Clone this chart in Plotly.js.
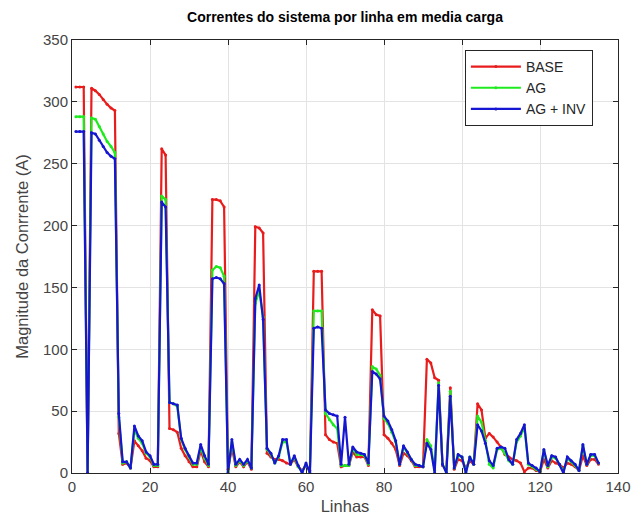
<!DOCTYPE html>
<html>
<head>
<meta charset="utf-8">
<script src="https://cdn.plot.ly/plotly-3.0.1.min.js"></script>
<style>
  html, body { margin: 0; padding: 0; background: #ffffff; }
  #chart { width: 632px; height: 521px; }
</style>
</head>
<body>
<div id="chart"></div>
<script>
// Current magnitude (A) on each line of the feeder, medium-load scenario
const seriesNames = ['BASE', 'AG', 'AG + INV'];

const base = [
  312, 312, 312, 0, 311, 309, 306, 302, 298, 295,
  293, 32, 7, 8, 4, 26, 22, 18, 12, 10,
  5, 5, 262, 257, 36, 35, 33, 20, 14, 9,
  5, 5, 18, 9, 5, 221, 221, 220, 215, 3,
  20, 5, 9, 5, 9, 3, 199, 198, 194, 16,
  13, 11, 11, 10, 8, 7, 11, 5, 2, 6,
  2, 163, 163, 163, 31, 27, 25, 24, 5, 6,
  6, 17, 13, 13, 13, 6, 132, 128, 127, 31,
  28, 24, 19, 6, 16, 14, 10, 5, 5, 5,
  92, 89, 77, 75, 6, 3, 69, 3, 11, 10,
  4, 10, 7, 56, 51, 28, 32, 29, 25, 21,
  15, 13, 11, 10, 8, 1, 4, 4, 2, 1,
  11, 4, 10, 8, 7, 4, 8, 7, 5, 2,
  14, 6, 11, 11, 7
];

const ag = [
  288, 288, 288, 0, 287, 286, 280, 274, 268, 264,
  259, 45, 8, 9, 4, 35, 28, 24, 16, 13,
  6, 6, 224, 221, 57, 56, 54, 27, 19, 13,
  7, 7, 21, 12, 6, 164, 167, 166, 159, 1,
  25, 6, 10, 6, 10, 4, 137, 147, 126, 19,
  15, 8, 13, 25, 25, 7, 13, 5, 1, 7,
  1, 131, 131, 131, 48, 43, 39, 36, 6, 6,
  6, 20, 15, 15, 14, 7, 86, 84, 79, 44,
  40, 33, 25, 7, 21, 16, 11, 6, 6, 5,
  27, 22, 2, 73, 7, 1, 66, 4, 14, 13,
  1, 13, 7, 46, 41, 26, 7, 4, 19, 20,
  16, 10, 7, 25, 30, 37, 7, 5, 3, 1,
  18, 5, 13, 12, 7, 1, 12, 9, 6, 2,
  22, 7, 14, 14, 8
];

const agInv = [
  276, 276, 276, 0, 275, 274, 269, 264, 259, 256,
  254, 48, 9, 9, 4, 38, 30, 26, 17, 14,
  7, 7, 219, 215, 57, 56, 55, 28, 20, 14,
  8, 8, 23, 14, 7, 157, 158, 157, 153, 0,
  27, 7, 11, 7, 11, 4, 141, 152, 124, 20,
  16, 8, 14, 27, 27, 7, 14, 6, 0, 8,
  0, 117, 118, 117, 51, 48, 47, 46, 7, 45,
  7, 21, 17, 16, 15, 8, 82, 80, 76, 46,
  42, 35, 26, 7, 22, 17, 11, 7, 6, 5,
  24, 19, 0, 71, 7, 0, 62, 4, 15, 13,
  0, 13, 7, 39, 34, 24, 10, 6, 20, 21,
  20, 11, 7, 27, 32, 39, 8, 6, 4, 1,
  19, 6, 14, 13, 7, 0, 13, 10, 7, 2,
  23, 7, 15, 15, 8
];

// line numbers 1..N
const linhas = base.map((_, i) => i + 1);

const colors = ['rgb(232,28,28)', 'rgb(30,235,30)', 'rgb(22,22,210)'];
const values = [base, ag, agInv];

const traces = values.map((v, k) => ({
  type: 'scatter',
  mode: 'lines+markers',
  x: linhas,
  y: v,
  name: seriesNames[k],
  line: { color: colors[k], width: 2.2 },
  marker: { color: colors[k], size: 3 }
}));

const axisCommon = {
  showline: true,
  linecolor: '#262626',
  linewidth: 1,
  mirror: 'ticks',
  ticks: 'inside',
  ticklen: 5,
  tickcolor: '#262626',
  showgrid: true,
  gridcolor: '#e3e3e3',
  gridwidth: 1,
  zeroline: false,
  tickfont: { family: 'Liberation Sans, Arial, sans-serif', size: 15, color: '#444444' }
};

const layout = {
  width: 632,
  height: 521,
  margin: { l: 72, r: 14, t: 40, b: 48 },
  paper_bgcolor: '#ffffff',
  plot_bgcolor: '#ffffff',
  font: { family: 'Liberation Sans, Arial, sans-serif', color: '#262626' },
  title: {
    text: 'Correntes do sistema por linha em media carga',
    font: { size: 14, weight: 'bold', color: '#000000' },
    xref: 'paper', x: 0.5, xanchor: 'center',
    y: 0.967, yanchor: 'middle'
  },
  xaxis: Object.assign({}, axisCommon, {
    range: [0, 140],
    tick0: 0, dtick: 20,
    title: { text: 'Linhas', font: { size: 16.5, color: '#444444' }, standoff: 6 }
  }),
  yaxis: Object.assign({}, axisCommon, {
    range: [0, 350],
    tick0: 0, dtick: 50,
    title: { text: 'Magnitude da Conrrente (A)', font: { size: 16.5, color: '#444444' }, standoff: 10 }
  }),
  showlegend: true,
  legend: {
    x: 0.954, y: 0.977, xanchor: 'right', yanchor: 'top',
    bgcolor: '#ffffff',
    bordercolor: '#262626',
    borderwidth: 1,
    itemwidth: 50,
    font: { size: 14, color: '#262626' },
    tracegroupgap: 0
  }
};

Plotly.newPlot('chart', traces, layout, { displayModeBar: false, staticPlot: true });
</script>
</body>
</html>
